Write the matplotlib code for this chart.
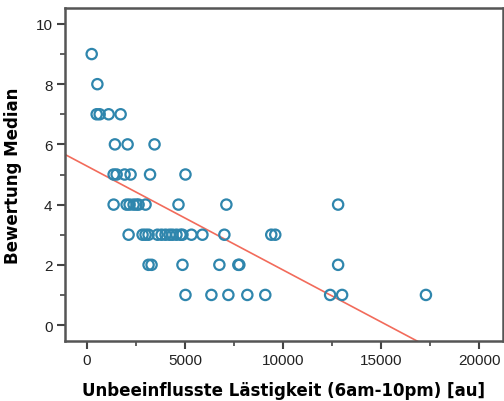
import numpy as np
import matplotlib
matplotlib.use("Agg")
import matplotlib.pyplot as plt
from matplotlib.ticker import MultipleLocator

# Data
x_vals = [240,
          530,
          494, 646, 1105, 1716,
          1425, 2072, 3446,
          1359, 1512, 1919, 2224, 3217, 5024,
          1359, 2021, 2173, 2377, 2530, 2632, 2988, 4668, 7111, 12812,
          2123, 2835, 2988, 3141, 3599, 3803, 4006, 4210, 4362, 4566, 4770, 4871, 5329, 5889, 7009, 9401, 9605,
          3141, 3294, 4871, 6754, 7721, 7772, 12812,
          5024, 6347, 7213, 8180, 9096, 12405, 13016, 17292]
y_vals = [9,
          8,
          7, 7, 7, 7,
          6, 6, 6,
          5, 5, 5, 5, 5, 5,
          4, 4, 4, 4, 4, 4, 4, 4, 4, 4,
          3, 3, 3, 3, 3, 3, 3, 3, 3, 3, 3, 3, 3, 3, 3, 3, 3,
          2, 2, 2, 2, 2, 2, 2,
          1, 1, 1, 1, 1, 1, 1, 1]
x_ticks = [0, 5000, 10000, 15000, 20000]
y_ticks = [0, 2, 4, 6, 8, 10]
x_label = "Unbeeinflusste Lästigkeit (6am-10pm) [au]"
y_label = "Bewertung Median"

fig = plt.figure(figsize=(5.04, 4.02), dpi=100)
ax = fig.add_axes([65/504, 1-342/402, (503-65)/504, (342-9)/402])

x = np.array(x_vals, dtype=float)
y = np.array(y_vals, dtype=float)
ax.scatter(x, y, s=55, facecolors='none', edgecolors='#2f86ad', linewidths=1.6, zorder=3)

slope, intercept = np.polyfit(x, y, 1)
xl = np.array([-1200, 21500])
ax.plot(xl, slope*xl + intercept, color='#f26b5b', lw=1.2, zorder=2)

ax.set_xlim(-1122, 21224)
ax.set_ylim(-0.53, 10.53)
ax.set_xticks(x_ticks)
ax.set_yticks(y_ticks)
ax.xaxis.set_minor_locator(MultipleLocator(2500))
ax.yaxis.set_minor_locator(MultipleLocator(1))
for lab in ax.get_xticklabels() + ax.get_yticklabels():
    lab.set_family('Liberation Sans')
    lab.set_fontsize(11)
    lab.set_color('#222222')
ax.tick_params(which='major', length=6, width=1.5, color='#444444', pad=3)
ax.tick_params(which='minor', length=3.5, width=1.2, color='#444444')
for s in ax.spines.values():
    s.set_color('#555555')
    s.set_linewidth(1.8)

ax.set_xlabel(x_label, fontsize=12, fontweight='bold', family='DejaVu Sans', labelpad=10)
ax.set_ylabel(y_label, fontsize=12, fontweight='bold', family='DejaVu Sans', labelpad=10)

fig.savefig('out.png', dpi=100)
